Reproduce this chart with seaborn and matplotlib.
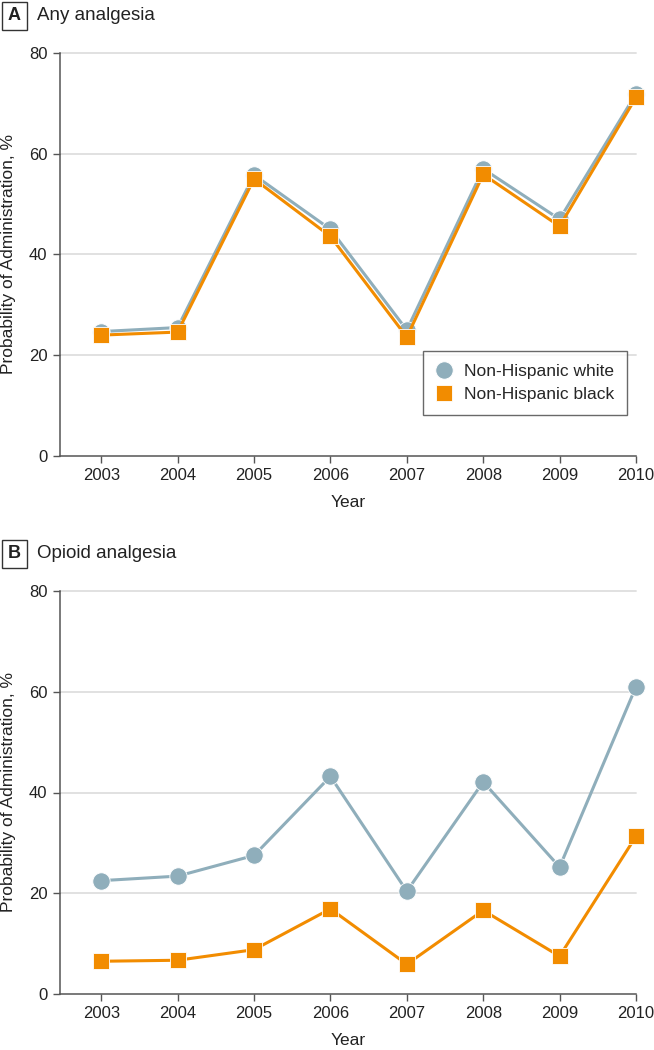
import matplotlib
matplotlib.use("Agg")
import matplotlib.pyplot as plt
import seaborn as sns
import pandas as pd
from matplotlib.patches import Rectangle

years = [2003, 2004, 2005, 2006, 2007, 2008, 2009, 2010]
any_white = [24.7, 25.5, 55.8, 45.0, 25.0, 57.0, 47.0, 71.9]
any_black = [24.0, 24.6, 55.0, 43.6, 23.6, 55.9, 45.6, 71.2]
opioid_white = [22.5, 23.4, 27.5, 43.2, 20.4, 42.1, 25.2, 61.0]
opioid_black = [6.5, 6.7, 8.8, 16.9, 5.9, 16.6, 7.5, 31.3]
series_names = ["Non-Hispanic white", "Non-Hispanic black"]
panel_titles = ["Any analgesia", "Opioid analgesia"]
panel_letters = ["A", "B"]
yticks = [0, 20, 40, 60, 80]

sns.set_theme(style="white")
plt.rcParams['font.family'] = ['Liberation Sans Narrow', 'Liberation Sans', 'DejaVu Sans']

W, H = 654, 1050
fig = plt.figure(figsize=(W / 100, H / 100), dpi=100)

c_white = "#8FAEBB"
c_black = "#F28C00"
grid_c = "#DEDEDE"
spine_c = "#555555"

def px_axes(left, top, right, bottom):
    return fig.add_axes([left / W, 1 - bottom / H, (right - left) / W, (bottom - top) / H])

panels = [
    (any_white, any_black, 53, 456),
    (opioid_white, opioid_black, 591, 994),
]

for i, (wv, bv, top, bottom) in enumerate(panels):
    ax = px_axes(60, top, 636, bottom)
    df = pd.DataFrame({
        "Year": years * 2,
        "val": wv + bv,
        "group": [series_names[0]] * len(years) + [series_names[1]] * len(years),
    })
    for yv in yticks[1:]:
        ax.axhline(yv, color=grid_c, lw=1.3, zorder=0)
    sns.lineplot(data=df[df.group == series_names[0]], x="Year", y="val", ax=ax,
                 color=c_white, lw=2.2, marker="o", markersize=12.5,
                 markeredgecolor="white", markeredgewidth=0.6, label=series_names[0], zorder=3)
    sns.lineplot(data=df[df.group == series_names[1]], x="Year", y="val", ax=ax,
                 color=c_black, lw=2.2, marker="s", markersize=11.5,
                 markeredgecolor="white", markeredgewidth=0.6, label=series_names[1], zorder=4)
    ax.set_xlim(2002.46, 2010)
    ax.set_ylim(0, 80)
    ax.set_yticks(yticks)
    ax.set_xticks(years)
    ax.set_xticklabels([str(y) for y in years])
    ax.tick_params(axis='both', labelsize=12, colors="#222222", length=5, width=1,
                   color=spine_c, pad=4)
    ax.tick_params(axis='x', bottom=True, direction='out')
    ax.tick_params(axis='y', left=True, direction='out')
    for s in ["top", "right"]:
        ax.spines[s].set_visible(False)
    for s in ["left", "bottom"]:
        ax.spines[s].set_color(spine_c)
        ax.spines[s].set_linewidth(1.1)
    ax.set_xlabel("Year", fontsize=12.5, color="#222222", labelpad=8)
    ax.set_ylabel("Probability of Administration, %", fontsize=12.5, color="#222222", labelpad=9)
    ax.grid(False)
    for ln in ax.lines:
        ln.set_clip_on(False)

    if i == 0:
        leg = ax.legend(loc="lower right", bbox_to_anchor=(1.0, 0.08), frameon=True,
                        fontsize=12.5, handlelength=0.9, handletextpad=0.7,
                        borderpad=0.75, labelspacing=0.45, fancybox=False)
        leg.get_frame().set_edgecolor("#444444")
        leg.get_frame().set_linewidth(1.0)
        for h in leg.legend_handles:
            h.set_linestyle("none")
    else:
        if ax.get_legend():
            ax.get_legend().remove()

    # panel letter box and title
    ty = top - 37
    fig.patches.append(Rectangle((2 / W, 1 - (ty + 14) / H), 25 / W, 28 / H,
                                 transform=fig.transFigure, fill=False,
                                 edgecolor="#333333", lw=1.0))
    fig.text(14.5 / W, 1 - ty / H, panel_letters[i], ha="center", va="center",
             fontsize=13, fontweight="bold", color="#222222")
    fig.text(37 / W, 1 - ty / H, panel_titles[i], ha="left", va="center",
             fontsize=13.5, color="#222222")

fig.savefig("out.png", dpi=100)
